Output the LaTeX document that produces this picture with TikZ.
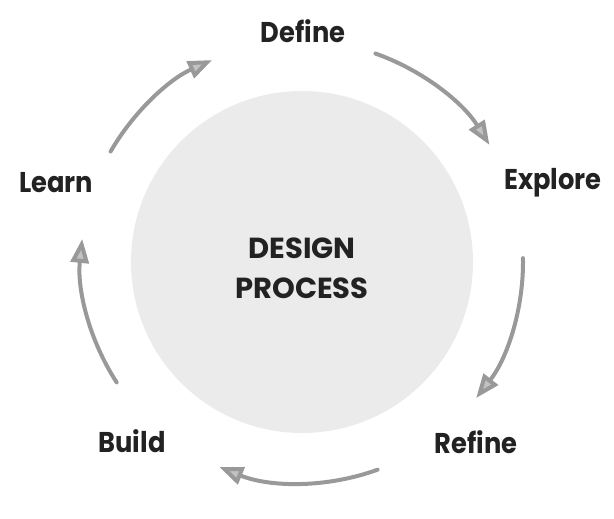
\documentclass[tikz,border=0pt]{standalone}
\usepackage{fontspec}
\setmainfont{Poppins}
\newfontfamily\labelfont{Poppins}[FakeStretch=0.9]
\usetikzlibrary{positioning,arrows.meta,calc}
\usepackage{xcolor}
\definecolor{ink}{HTML}{222222}
\definecolor{arcgray}{HTML}{999999}
\definecolor{discfill}{HTML}{EBEBEB}

\tikzset{
  stage/.style={font=\labelfont\fontsize{14.3}{16}\selectfont\bfseries,text=ink,inner sep=0pt},
  title/.style={font=\fontsize{14.5}{20}\selectfont\bfseries,text=ink,inner sep=0pt,align=center},
  flow/.style={draw=arcgray,line width=2pt,line cap=round,
    -{Triangle[open,length=12pt,width=9pt,line width=2pt,fill=arcgray!60]}},
}

\begin{document}
\begin{tikzpicture}[x=0.5pt,y=0.5pt]
  \useasboundingbox (0,0) rectangle (614,518);
  \coordinate (mid) at (302,256);
  \fill[discfill] (mid) circle[radius=171];
  \node[title] (core) at (302,250) {DESIGN\\PROCESS};
  % stage labels
  \node[stage] (define)  at (303,487) {Define};
  \node[stage] (explore) at (553,335) {Explore};
  \node[stage] (refine)  at (476,76)  {Refine};
  \node[stage] (build)   at (132,77)  {Build};
  \node[stage] (learn)   at (56,335)  {Learn};
  % arcs between stages
  \foreach \s/\e/\n in {70.6/32/a,1/-38/b,-70/-112/c,-147/-186/d,150/114/e}{
    \coordinate (\n) at ($(mid)+(\s:221)$);
    \draw[flow] (\n) arc[start angle=\s,end angle=\e,radius=221];
  }
\end{tikzpicture}
\end{document}
